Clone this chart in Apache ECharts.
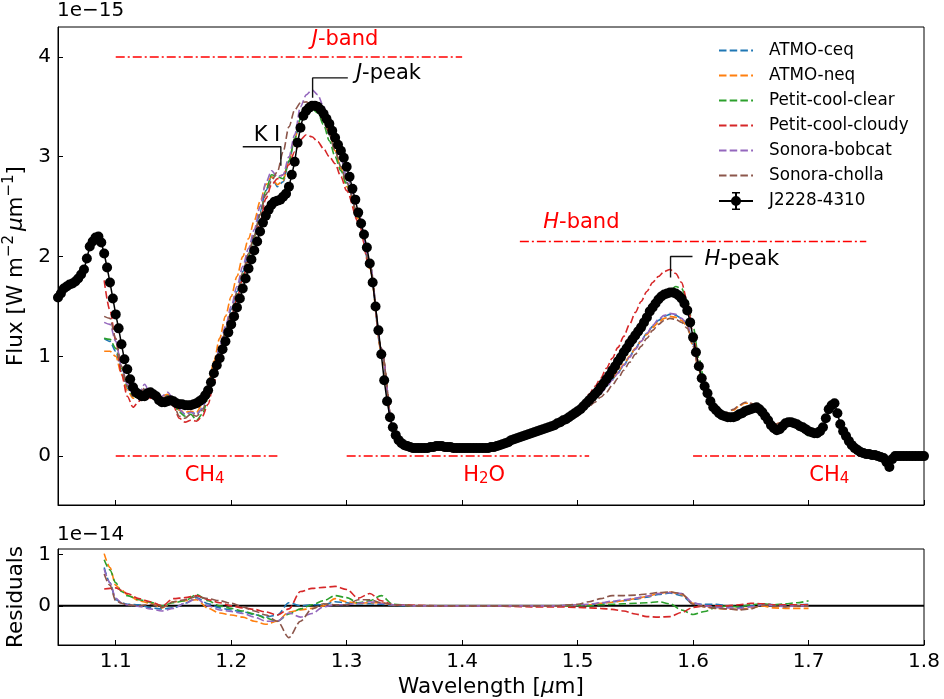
<!DOCTYPE html>
<html>
<head>
<meta charset="utf-8">
<title>J2228-4310 spectrum vs models</title>
<script src="https://cdn.jsdelivr.net/npm/echarts@6/dist/echarts.min.js"></script>
<style>
  html, body { margin: 0; padding: 0; background: #fff; }
  #chart { width: 944px; height: 699px; }
</style>
</head>
<body>
<div id="chart"></div>
<script>
// observed spectrum, one point every 0.0025 um from 1.05 um (flux in 1e-15 W m-2 um-1)
const obsStart = 1.05;
const obsStep = 0.0025;
const obsFlux = [
  1.59, 1.63, 1.68, 1.70, 1.72, 1.73, 1.75, 1.78, 1.82, 1.87,
  1.98, 2.10, 2.15, 2.19, 2.20, 2.14, 2.03, 1.89, 1.74, 1.58,
  1.42, 1.28, 1.12, 0.97, 0.87, 0.77, 0.69, 0.64, 0.62, 0.60,
  0.60, 0.63, 0.64, 0.62, 0.60, 0.56, 0.54, 0.54, 0.55, 0.56,
  0.55, 0.53, 0.52, 0.52, 0.51, 0.51, 0.51, 0.52, 0.53, 0.55,
  0.57, 0.61, 0.66, 0.74, 0.83, 0.91, 0.98, 1.07, 1.15, 1.24,
  1.32, 1.40, 1.49, 1.58, 1.68, 1.78, 1.88, 1.97, 2.06, 2.15,
  2.25, 2.34, 2.41, 2.47, 2.52, 2.55, 2.56, 2.57, 2.60, 2.63,
  2.70, 2.82, 2.95, 3.14, 3.29, 3.41, 3.46, 3.49, 3.51, 3.51,
  3.50, 3.47, 3.43, 3.38, 3.33, 3.26, 3.19, 3.12, 3.06, 2.99,
  2.90, 2.80, 2.68, 2.57, 2.44, 2.33, 2.22, 2.09, 1.93, 1.74,
  1.50, 1.26, 1.02, 0.76, 0.55, 0.39, 0.29, 0.21, 0.16, 0.13,
  0.11, 0.10, 0.09, 0.08, 0.08, 0.08, 0.08, 0.08, 0.08, 0.09,
  0.09, 0.10, 0.10, 0.10, 0.09, 0.09, 0.09, 0.08, 0.08, 0.08,
  0.08, 0.08, 0.08, 0.08, 0.08, 0.08, 0.08, 0.08, 0.08, 0.08,
  0.09, 0.09, 0.10, 0.11, 0.12, 0.13, 0.14, 0.16, 0.17, 0.18,
  0.19, 0.20, 0.21, 0.22, 0.23, 0.24, 0.25, 0.26, 0.27, 0.28,
  0.29, 0.30, 0.31, 0.33, 0.34, 0.36, 0.37, 0.39, 0.41, 0.43,
  0.45, 0.47, 0.50, 0.53, 0.56, 0.59, 0.62, 0.65, 0.69, 0.73,
  0.77, 0.81, 0.86, 0.90, 0.95, 0.99, 1.04, 1.08, 1.13, 1.17,
  1.21, 1.25, 1.29, 1.34, 1.39, 1.45, 1.49, 1.53, 1.57, 1.60,
  1.62, 1.63, 1.64, 1.64, 1.63, 1.61, 1.58, 1.53, 1.46, 1.34,
  1.19, 1.04, 0.90, 0.78, 0.70, 0.63, 0.55, 0.49, 0.46, 0.43,
  0.41, 0.40, 0.39, 0.39, 0.39, 0.40, 0.42, 0.43, 0.45, 0.46,
  0.47, 0.48, 0.49, 0.47, 0.44, 0.40, 0.36, 0.31, 0.28, 0.26,
  0.27, 0.30, 0.33, 0.34, 0.34, 0.33, 0.32, 0.30, 0.29, 0.27,
  0.25, 0.24, 0.23, 0.23, 0.25, 0.29, 0.38, 0.47, 0.51, 0.53,
  0.43, 0.32, 0.25, 0.20, 0.15, 0.11, 0.08, 0.06, 0.04, 0.03,
  0.02, 0.02, 0.01, 0.01, 0.00, -0.01, -0.02, -0.06, -0.11, -0.03,
  0.00, 0.00, 0.00, 0.00, 0.00, 0.00, 0.00, 0.00, 0.00, 0.00,
  0.00
];

// model fluxes on the model grid: 1.09-1.30 (0.005), 1.31-1.50 (0.01), 1.505-1.70 (0.005)
const atmoCeq = [
  1.18, 1.15, 1.05, 0.85, 0.68, 0.60, 0.60, 0.67, 0.60, 0.58,
  0.58, 0.61, 0.55, 0.46, 0.42, 0.44, 0.42, 0.48, 0.62, 0.85,
  1.08, 1.28, 1.47, 1.65, 1.85, 2.03, 2.22, 2.45, 2.66, 2.80,
  2.70, 2.75, 2.95, 3.18, 3.38, 3.47, 3.50, 3.47, 3.38, 3.22,
  3.06, 2.90, 2.74,
  2.40, 1.90, 1.05, 0.27, 0.10, 0.08, 0.08, 0.09, 0.09, 0.08,
  0.08, 0.08, 0.10, 0.14, 0.19, 0.23, 0.27, 0.31, 0.36, 0.43,
  0.49, 0.54, 0.59, 0.64, 0.70, 0.77, 0.84, 0.91, 1.00, 1.08,
  1.16, 1.23, 1.30, 1.36, 1.40, 1.42, 1.41, 1.38, 1.32, 1.12,
  0.88, 0.68, 0.54, 0.45, 0.41, 0.40, 0.41, 0.45, 0.48, 0.50,
  0.49, 0.44, 0.36, 0.29, 0.28, 0.33, 0.35, 0.32, 0.29, 0.26
];
const atmoNeq = [
  1.05, 1.05, 1.00, 0.82, 0.66, 0.58, 0.60, 0.66, 0.60, 0.58,
  0.60, 0.62, 0.54, 0.46, 0.44, 0.45, 0.44, 0.52, 0.70, 0.95,
  1.18, 1.40, 1.60, 1.80, 2.00, 2.18, 2.36, 2.55, 2.72, 2.80,
  2.72, 2.76, 2.96, 3.18, 3.38, 3.47, 3.50, 3.47, 3.38, 3.24,
  3.06, 2.88, 2.70,
  2.38, 1.88, 1.05, 0.27, 0.10, 0.08, 0.08, 0.09, 0.09, 0.08,
  0.08, 0.08, 0.10, 0.14, 0.19, 0.23, 0.27, 0.31, 0.36, 0.43,
  0.49, 0.54, 0.59, 0.65, 0.71, 0.78, 0.85, 0.92, 1.00, 1.08,
  1.15, 1.22, 1.29, 1.34, 1.38, 1.40, 1.39, 1.36, 1.30, 1.10,
  0.86, 0.67, 0.54, 0.46, 0.43, 0.43, 0.46, 0.50, 0.53, 0.53,
  0.50, 0.44, 0.37, 0.32, 0.33, 0.36, 0.36, 0.33, 0.29, 0.26
];
const petitClear = [
  1.18, 1.17, 1.08, 0.88, 0.70, 0.60, 0.58, 0.64, 0.60, 0.58,
  0.58, 0.60, 0.52, 0.44, 0.40, 0.42, 0.36, 0.42, 0.58, 0.82,
  1.04, 1.24, 1.43, 1.62, 1.82, 2.01, 2.20, 2.42, 2.66, 2.82,
  2.80, 2.78, 2.96, 3.18, 3.38, 3.46, 3.48, 3.44, 3.32, 3.16,
  3.00, 2.86, 2.72,
  2.40, 1.92, 1.08, 0.28, 0.10, 0.08, 0.08, 0.09, 0.09, 0.08,
  0.08, 0.08, 0.10, 0.14, 0.19, 0.23, 0.27, 0.31, 0.37, 0.45,
  0.50, 0.56, 0.62, 0.69, 0.77, 0.86, 0.95, 1.04, 1.13, 1.21,
  1.29, 1.38, 1.47, 1.55, 1.61, 1.66, 1.70, 1.68, 1.56, 1.30,
  0.98, 0.74, 0.56, 0.46, 0.41, 0.39, 0.39, 0.42, 0.45, 0.47,
  0.48, 0.43, 0.35, 0.28, 0.28, 0.33, 0.33, 0.30, 0.24, 0.20
];
const petitCloudy = [
  1.76, 1.46, 1.16, 0.82, 0.60, 0.49, 0.55, 0.62, 0.58, 0.56,
  0.56, 0.58, 0.50, 0.38, 0.34, 0.36, 0.35, 0.40, 0.52, 0.74,
  0.96, 1.17, 1.38, 1.58, 1.78, 1.97, 2.15, 2.35, 2.58, 2.72,
  2.78, 2.82, 2.92, 3.05, 3.17, 3.22, 3.20, 3.15, 3.08, 3.00,
  2.93, 2.80, 2.66,
  2.35, 1.90, 1.08, 0.28, 0.10, 0.08, 0.08, 0.09, 0.09, 0.08,
  0.08, 0.08, 0.10, 0.14, 0.19, 0.23, 0.28, 0.32, 0.39, 0.48,
  0.54, 0.62, 0.70, 0.78, 0.88, 0.98, 1.09, 1.20, 1.32, 1.44,
  1.55, 1.65, 1.74, 1.80, 1.85, 1.87, 1.83, 1.74, 1.55, 1.22,
  0.92, 0.70, 0.55, 0.46, 0.42, 0.40, 0.40, 0.43, 0.46, 0.48,
  0.49, 0.44, 0.36, 0.29, 0.28, 0.33, 0.34, 0.32, 0.29, 0.25
];
const sonoraBobcat = [
  1.34, 1.32, 1.15, 0.90, 0.72, 0.62, 0.62, 0.72, 0.62, 0.60,
  0.60, 0.64, 0.57, 0.47, 0.42, 0.44, 0.42, 0.48, 0.63, 0.87,
  1.10, 1.30, 1.50, 1.70, 1.90, 2.08, 2.27, 2.50, 2.74, 2.86,
  2.80, 2.82, 3.00, 3.22, 3.50, 3.62, 3.67, 3.62, 3.50, 3.36,
  3.16, 2.98, 2.80,
  2.44, 1.93, 1.08, 0.28, 0.10, 0.08, 0.08, 0.09, 0.09, 0.08,
  0.08, 0.08, 0.10, 0.14, 0.19, 0.23, 0.27, 0.30, 0.35, 0.42,
  0.48, 0.53, 0.58, 0.63, 0.69, 0.76, 0.83, 0.91, 0.99, 1.07,
  1.15, 1.23, 1.31, 1.37, 1.41, 1.43, 1.42, 1.38, 1.32, 1.12,
  0.88, 0.68, 0.54, 0.45, 0.41, 0.40, 0.41, 0.44, 0.47, 0.49,
  0.49, 0.44, 0.36, 0.29, 0.28, 0.33, 0.34, 0.32, 0.29, 0.26
];
const sonoraCholla = [
  1.40, 1.38, 1.18, 0.90, 0.70, 0.60, 0.60, 0.68, 0.60, 0.58,
  0.58, 0.60, 0.52, 0.40, 0.38, 0.42, 0.40, 0.46, 0.60, 0.83,
  1.05, 1.25, 1.45, 1.64, 1.84, 2.03, 2.21, 2.42, 2.62, 2.76,
  2.85, 3.05, 3.30, 3.47, 3.54, 3.55, 3.52, 3.46, 3.36, 3.22,
  3.06, 2.90, 2.74,
  2.42, 1.92, 1.08, 0.28, 0.10, 0.08, 0.08, 0.09, 0.09, 0.08,
  0.08, 0.08, 0.10, 0.14, 0.19, 0.23, 0.26, 0.30, 0.34, 0.40,
  0.46, 0.50, 0.54, 0.59, 0.64, 0.71, 0.78, 0.86, 0.94, 1.02,
  1.10, 1.18, 1.26, 1.32, 1.36, 1.38, 1.37, 1.34, 1.28, 1.10,
  0.87, 0.67, 0.54, 0.46, 0.43, 0.44, 0.47, 0.51, 0.54, 0.53,
  0.50, 0.44, 0.37, 0.32, 0.33, 0.36, 0.36, 0.33, 0.29, 0.26
];

// residuals (1e-14) on: 1.09, 1.095, 1.10, 1.105, 1.11-1.34 (0.01), 1.36-1.50 (0.02), 1.51-1.70 (0.01)
const atmoCeqRes = [
  0.75, 0.45, 0.12, 0.06,
  0.03, 0.02, -0.04, -0.06, -0.04, 0.05, 0.16, 0.04, -0.04, -0.08,
  -0.12, -0.17, -0.22, -0.18, 0.06, 0.00, 0.02, 0.02, 0.08, 0.06,
  0.04, 0.04, 0.03, 0.01,
  0.00, 0.00, 0.00, 0.00, 0.00, 0.00, 0.00, 0.01,
  0.02, 0.05, 0.08, 0.10, 0.13, 0.17, 0.22, 0.25, 0.20, 0.04,
  0.03, 0.03, 0.00, -0.03, 0.00, 0.04, 0.02, 0.02, 0.02, 0.03
];
const atmoNeqRes = [
  1.02, 0.75, 0.40, 0.31,
  0.22, 0.10, 0.05, -0.04, 0.08, 0.10, 0.12, -0.05, -0.14, -0.18,
  -0.22, -0.30, -0.36, -0.30, -0.12, -0.08, -0.05, 0.00, 0.14, 0.08,
  0.05, 0.06, 0.06, 0.02,
  0.00, 0.00, 0.00, 0.00, 0.00, 0.00, 0.00, 0.01,
  0.02, 0.05, 0.07, 0.10, 0.14, 0.18, 0.24, 0.27, 0.22, 0.05,
  -0.02, -0.05, -0.06, -0.07, -0.04, 0.00, -0.04, -0.05, -0.05, -0.05
];
const petitClearRes = [
  0.90, 0.70, 0.45, 0.28,
  0.20, 0.12, 0.07, 0.00, 0.06, 0.10, 0.22, 0.10, 0.00, -0.05,
  -0.10, -0.16, -0.24, -0.30, -0.16, -0.06, 0.02, 0.10, 0.20, 0.16,
  0.06, 0.10, 0.20, 0.03,
  0.00, 0.00, 0.00, 0.00, 0.00, 0.00, 0.00, 0.01,
  0.00, 0.02, 0.03, 0.04, 0.05, 0.06, 0.08, 0.04, -0.08, -0.17,
  -0.11, -0.03, 0.00, -0.02, 0.02, 0.04, 0.02, 0.04, 0.06, 0.10
];
const petitCloudyRes = [
  0.33, 0.34, 0.35, 0.30,
  0.24, 0.14, 0.08, 0.00, 0.14, 0.16, 0.20, 0.12, 0.06, 0.00,
  -0.04, -0.07, -0.12, -0.18, -0.06, 0.28, 0.34, 0.36, 0.38, 0.32,
  0.15, 0.24, 0.10, 0.02,
  0.01, 0.00, 0.00, 0.00, -0.01, -0.02, -0.02, -0.03,
  -0.04, -0.05, -0.07, -0.10, -0.16, -0.21, -0.22, -0.21, -0.13, -0.03,
  0.00, 0.00, 0.00, 0.02, 0.05, 0.04, 0.02, 0.02, 0.02, 0.02
];
const sonoraBobcatRes = [
  0.72, 0.45, 0.15, 0.06,
  0.02, -0.01, -0.06, -0.10, -0.05, 0.05, 0.14, 0.00, -0.08, -0.11,
  -0.15, -0.22, -0.30, -0.30, -0.14, -0.22, -0.15, -0.02, 0.02, 0.02,
  0.05, 0.08, 0.05, 0.02,
  0.00, 0.00, 0.00, 0.00, 0.00, 0.00, 0.00, 0.02,
  0.03, 0.06, 0.09, 0.12, 0.15, 0.19, 0.24, 0.26, 0.24, 0.06,
  0.00, -0.03, -0.04, -0.05, -0.02, 0.02, 0.00, -0.01, 0.00, 0.00
];
const sonoraChollaRes = [
  0.62, 0.40, 0.10, 0.05,
  0.02, 0.00, 0.03, -0.03, 0.08, 0.12, 0.18, 0.14, 0.10, 0.05,
  -0.02, -0.10, -0.18, -0.30, -0.62, -0.30, -0.06, 0.04, 0.02, 0.02,
  0.12, 0.12, 0.06, 0.02,
  0.00, 0.00, 0.00, 0.00, 0.00, 0.00, 0.00, 0.03,
  0.08, 0.14, 0.20, 0.20, 0.21, 0.23, 0.26, 0.27, 0.24, 0.03,
  -0.02, -0.05, -0.06, -0.08, -0.06, 0.02, 0.00, -0.02, 0.00, 0.00
];

// tick labels
const waveTicks = [1.1, 1.2, 1.3, 1.4, 1.5, 1.6, 1.7, 1.8];
const fluxTicks = [0, 1, 2, 3, 4];
const residTicks = [0, 1];

function range(a, b, step) {
  const out = [];
  const n = Math.round((b - a) / step);
  for (let i = 0; i <= n; i++) out.push(+(a + i * step).toFixed(4));
  return out;
}

const obsWave = obsFlux.map((_, i) => +(obsStart + i * obsStep).toFixed(4));
const modelWave = range(1.09, 1.30, 0.005).concat(range(1.31, 1.50, 0.01), range(1.505, 1.70, 0.005));
const residWave = [1.09, 1.095, 1.10, 1.105].concat(range(1.11, 1.34, 0.01), range(1.36, 1.50, 0.02), range(1.51, 1.70, 0.01));

const models = [
  { name: 'ATMO-ceq', color: '#1f77b4', flux: atmoCeq, resid: atmoCeqRes },
  { name: 'ATMO-neq', color: '#ff7f0e', flux: atmoNeq, resid: atmoNeqRes },
  { name: 'Petit-cool-clear', color: '#2ca02c', flux: petitClear, resid: petitClearRes },
  { name: 'Petit-cool-cloudy', color: '#d62728', flux: petitCloudy, resid: petitCloudyRes },
  { name: 'Sonora-bobcat', color: '#9467bd', flux: sonoraBobcat, resid: sonoraBobcatRes },
  { name: 'Sonora-cholla', color: '#8c564b', flux: sonoraCholla, resid: sonoraChollaRes }
];

// band / absorber markers: [from, to, level]
const bandLines = [[1.1, 1.4, 4.0], [1.45, 1.75, 2.15], [1.1, 1.24, 0], [1.3, 1.51, 0], [1.6, 1.75, 0]];
// bracket lines for K I, J-peak, H-peak
const brackets = [
  [[1.210, 3.10], [1.243, 3.10], [1.243, 2.91]],
  [[1.2705, 3.59], [1.2705, 3.79], [1.301, 3.79]],
  [[1.5805, 1.79], [1.5805, 2.00], [1.5995, 2.00]]
];
const notes = [
  { x: 1.2986, y: 4.17, text: '{i|J}-band', red: true, align: 'center' },
  { x: 1.5033, y: 2.34, text: '{i|H}-band', red: true, align: 'center' },
  { x: 1.177, y: -0.19, text: 'CH{s|4}', red: true, align: 'center' },
  { x: 1.419, y: -0.19, text: 'H{s|2}O', red: true, align: 'center' },
  { x: 1.718, y: -0.19, text: 'CH{s|4}', red: true, align: 'center' },
  { x: 1.231, y: 3.21, text: 'K I', red: false, align: 'center' },
  { x: 1.308, y: 3.83, text: '{i|J}-peak', red: false, align: 'left' },
  { x: 1.610, y: 1.97, text: '{i|H}-peak', red: false, align: 'left' }
];

const FONT = 'DejaVu Sans';
const dashed = [7.5, 3.2];
const dashDot = [9, 3, 2, 3];
// legend handle for the observed spectrum: line, dot and error bar
const errIcon = 'path://M0,8 h34 v2 h-34 z M16,0 h2 v18 h-2 z M13,0 h8 v1.6 h-8 z M13,16.4 h8 v1.6 h-8 z M12,9 a5,5 0 1,1 10,0 a5,5 0 1,1 -10,0 z';

const chart = echarts.init(document.getElementById('chart'));

const series = [];
models.forEach(m => {
  series.push({
    name: m.name, type: 'line', xAxisIndex: 0, yAxisIndex: 0,
    data: modelWave.map((w, i) => [w, m.flux[i]]),
    symbol: 'none', smooth: 0.3, smoothMonotone: 'x',
    lineStyle: { color: m.color, width: 1.6, type: dashed },
    itemStyle: { color: m.color }, z: 3
  });
});
series.push({
  name: 'J2228-4310', type: 'line', xAxisIndex: 0, yAxisIndex: 0,
  data: obsWave.map((w, i) => [w, obsFlux[i]]),
  symbol: 'circle', symbolSize: 10, showSymbol: true, showAllSymbol: true,
  lineStyle: { color: '#000', width: 1.5 },
  itemStyle: { color: '#000' }, z: 5
});
bandLines.forEach(b => {
  series.push({
    type: 'line', xAxisIndex: 0, yAxisIndex: 0, silent: true,
    data: [[b[0], b[2]], [b[1], b[2]]], symbol: 'none',
    lineStyle: { color: '#ff0000', width: 1.5, type: dashDot }, z: 2
  });
});
brackets.forEach(b => {
  series.push({
    type: 'line', xAxisIndex: 0, yAxisIndex: 0, silent: true,
    data: b, symbol: 'none',
    lineStyle: { color: '#111', width: 1.4 }, z: 6
  });
});
series.push({
  type: 'custom', xAxisIndex: 0, yAxisIndex: 0, silent: true, z: 7,
  data: notes.map(n => [n.x, n.y]),
  renderItem: (params, api) => {
    const n = notes[params.dataIndex];
    const p = api.coord([n.x, n.y]);
    const col = n.red ? '#ff0000' : '#000';
    return {
      type: 'text', x: p[0], y: p[1],
      style: {
        text: n.text, fill: col, fontSize: 21, fontFamily: FONT,
        align: n.align, verticalAlign: 'middle',
        rich: {
          i: { fontStyle: 'italic', fontSize: 21, fontFamily: FONT, fill: col },
          s: { fontSize: 15, fontFamily: FONT, fill: col, padding: [9, 0, 0, 0] }
        }
      }
    };
  }
});
// residual panel
series.push({
  type: 'line', xAxisIndex: 1, yAxisIndex: 1, silent: true,
  data: [[1.05, 0], [1.8, 0]], symbol: 'none',
  lineStyle: { color: '#000', width: 2 }, z: 2
});
models.forEach(m => {
  series.push({
    name: m.name, type: 'line', xAxisIndex: 1, yAxisIndex: 1,
    data: residWave.map((w, i) => [w, m.resid[i]]),
    symbol: 'none', smooth: 0.3, smoothMonotone: 'x',
    lineStyle: { color: m.color, width: 1.6, type: dashed },
    itemStyle: { color: m.color }, z: 3
  });
});

const tickLabel = { color: '#000', fontSize: 20, fontFamily: FONT };
const nameRich = {
  n: { fontSize: 21.5, fontFamily: FONT, color: '#000' },
  i: { fontSize: 21.5, fontFamily: FONT, color: '#000', fontStyle: 'italic' },
  s: { fontSize: 15, fontFamily: FONT, color: '#000', padding: [0, 0, 14, 0] }
};
const axisLine = { show: true, onZero: false, lineStyle: { color: '#000', width: 1 } };

const option = {
  animation: false,
  backgroundColor: '#fff',
  textStyle: { fontFamily: FONT },
  title: [
    { text: '1e−15', left: 57, top: 1, padding: 0, textStyle: { fontSize: 20, fontWeight: 'normal', fontFamily: FONT, color: '#000' } },
    { text: '1e−14', left: 57, top: 525, padding: 0, textStyle: { fontSize: 20, fontWeight: 'normal', fontFamily: FONT, color: '#000' } }
  ],
  legend: {
    data: models.map(m => ({ name: m.name, itemStyle: { opacity: 0 } })).concat([{ name: 'J2228-4310', icon: errIcon }]),
    orient: 'vertical', left: 718, top: 42, padding: 0,
    itemWidth: 34, itemHeight: 18, itemGap: 8,
    textStyle: { color: '#000', fontSize: 16.8, fontFamily: FONT, padding: [0, 0, 0, 11] }
  },
  grid: [
    { left: 58, right: 20, top: 27, height: 478, outerBoundsMode: 'none', show: true, borderColor: '#000', borderWidth: 1, backgroundColor: 'transparent' },
    { left: 58, right: 20, top: 549, height: 96, outerBoundsMode: 'none', show: true, borderColor: '#000', borderWidth: 1, backgroundColor: 'transparent' }
  ],
  xAxis: [
    {
      gridIndex: 0, type: 'value', min: 1.05, max: 1.8,
      axisLine: axisLine,
      axisTick: { show: true, inside: true, length: 5, customValues: waveTicks, lineStyle: { color: '#000' } },
      axisLabel: { show: false },
      splitLine: { show: false }
    },
    {
      gridIndex: 1, type: 'value', min: 1.05, max: 1.8,
      axisLine: axisLine,
      axisTick: { show: true, inside: true, length: 5, customValues: waveTicks, lineStyle: { color: '#000' } },
      axisLabel: Object.assign({ customValues: waveTicks, margin: 7, formatter: v => v.toFixed(1) }, tickLabel),
      splitLine: { show: false },
      name: '{n|Wavelength [}{i|μ}{n|m]}', nameLocation: 'middle', nameGap: 31,
      nameTextStyle: { rich: nameRich }
    }
  ],
  yAxis: [
    {
      gridIndex: 0, type: 'value', min: -0.49, max: 4.3,
      axisLine: axisLine,
      axisTick: { show: true, inside: true, length: 5, customValues: fluxTicks, lineStyle: { color: '#000' } },
      axisLabel: Object.assign({ customValues: fluxTicks, margin: 7 }, tickLabel),
      splitLine: { show: false },
      name: '{n|Flux [W m}{s|−2} {i|μ}{n|m}{s|−1}{n|]}', nameLocation: 'middle', nameGap: 22, nameRotate: 90,
      nameTextStyle: { rich: nameRich }
    },
    {
      gridIndex: 1, type: 'value', min: -0.765, max: 1.11,
      axisLine: axisLine,
      axisTick: { show: true, inside: true, length: 5, customValues: residTicks, lineStyle: { color: '#000' } },
      axisLabel: Object.assign({ customValues: residTicks, margin: 7 }, tickLabel),
      splitLine: { show: false },
      name: 'Residuals', nameLocation: 'middle', nameGap: 25, nameRotate: 90,
      nameTextStyle: { fontSize: 21.5, fontFamily: FONT, color: '#000' }
    }
  ],
  series: series
};

chart.setOption(option);
</script>
</body>
</html>
